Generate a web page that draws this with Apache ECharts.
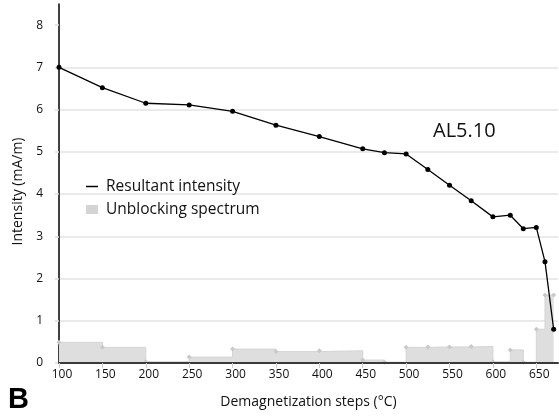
<!DOCTYPE html>
<html>
<head>
<meta charset="utf-8">
<script src="https://cdn.jsdelivr.net/npm/echarts@6/dist/echarts.min.js"></script>
<style>
html,body{margin:0;padding:0;background:#fff;}
#chart{width:559px;height:416px;}
</style>
</head>
<body>
<div id="chart"></div>
<script>
// Demagnetization steps (°C)
var steps = [100, 150, 200, 250, 300, 350, 400, 450, 475, 500, 525, 550, 575, 600, 620, 635, 650, 660, 670];
// Resultant intensity (mA/m)
var intensity = [7.00, 6.52, 6.15, 6.11, 5.96, 5.63, 5.36, 5.07, 4.98, 4.95, 4.58, 4.21, 3.84, 3.46, 3.50, 3.18, 3.21, 2.40, 0.80];
// Unblocking spectrum (value held from each step to the next)
var spectrum = [0.49, 0.37, 0.03, 0.14, 0.33, 0.27, 0.29, 0.07, 0.02, 0.37, 0.38, 0.38, 0.39, 0.03, 0.31, 0.02, 0.80, 1.61, 1.61];
// Tick labels
var xTicks = [100, 150, 200, 250, 300, 350, 400, 450, 500, 550, 600, 650];
var yTicks = [0, 1, 2, 3, 4, 5, 6, 7, 8];

var FONT = 'Open Sans';
function pairs(xs, ys) { return xs.map(function (x, i) { return [x, ys[i]]; }); }

var chart = echarts.init(document.getElementById('chart'), null, { renderer: 'canvas' });
chart.setOption({
  animation: false,
  backgroundColor: '#ffffff',
  textStyle: { fontFamily: FONT },
  grid: { left: 59, right: 1, top: 4, bottom: 53, containLabel: false },
  legend: {
    orient: 'vertical',
    left: 81,
    top: 173,
    itemWidth: 12,
    itemHeight: 9,
    itemGap: 6,
    textStyle: { fontFamily: FONT, fontSize: 15.5, color: '#111', padding: [0, 0, 0, 3], lineHeight: 17 },
    data: [
      { name: 'Resultant intensity', icon: 'path://M0,0H24V3H0Z', itemStyle: { color: '#000' } },
      { name: 'Unblocking spectrum', icon: 'rect', itemStyle: { color: '#d3d3d3' } }
    ]
  },
  title: [
    { text: 'AL5.10', left: 428, top: 116, textStyle: { fontFamily: FONT, fontSize: 20, fontWeight: 'normal', color: '#111' } }
  ],
  graphic: [
    { type: 'text', left: 8, top: 385, style: { text: 'B', font: 'bold 29px "Liberation Sans", Arial, sans-serif', fill: '#000' } }
  ],
  xAxis: {
    type: 'value',
    min: 100,
    max: 675,
    interval: 50,
    z: 10,
    name: 'Demagnetization steps (°C)',
    nameLocation: 'middle',
    nameGap: 32,
    nameTextStyle: { fontFamily: FONT, fontSize: 14, color: '#111' },
    axisLine: { show: true, lineStyle: { color: '#3a3a3a', width: 2 } },
    axisTick: { show: true, customValues: xTicks, length: 5, lineStyle: { color: '#cfcfcf', width: 1 } },
    axisLabel: { customValues: xTicks, fontFamily: FONT, fontSize: 12, color: '#111', margin: 6, padding: [0, 0, 0, 6] },
    splitLine: { show: false }
  },
  yAxis: {
    type: 'value',
    min: 0,
    max: 8.5,
    interval: 1,
    name: 'Intensity (mA/m)',
    nameLocation: 'middle',
    nameGap: 33,
    nameTextStyle: { fontFamily: FONT, fontSize: 14, color: '#111', padding: [0, 16, 0, 0] },
    axisLine: { show: true, lineStyle: { color: '#000', width: 1.5 } },
    axisTick: { show: true, customValues: yTicks, length: 4, lineStyle: { color: '#dddddd', width: 1.5 } },
    axisLabel: { customValues: yTicks, fontFamily: FONT, fontSize: 12, color: '#111', margin: 16 },
    splitLine: { show: true, showMinLine: false, showMaxLine: false, lineStyle: { color: '#e3e3e3', width: 1.5 } }
  },
  series: [
    {
      name: 'Unblocking spectrum',
      type: 'line',
      step: 'end',
      z: 1,
      data: pairs(steps, spectrum),
      symbol: 'diamond',
      symbolSize: 5,
      showSymbol: true,
      itemStyle: { color: '#c9c9c9' },
      lineStyle: { color: '#d4d4d4', width: 1 },
      areaStyle: { color: '#dedede', opacity: 1 }
    },
    {
      name: 'Resultant intensity',
      type: 'line',
      z: 5,
      data: pairs(steps, intensity),
      symbol: 'circle',
      symbolSize: 5,
      itemStyle: { color: '#000' },
      lineStyle: { color: '#000', width: 1.3 }
    }
  ]
});
</script>
</body>
</html>
